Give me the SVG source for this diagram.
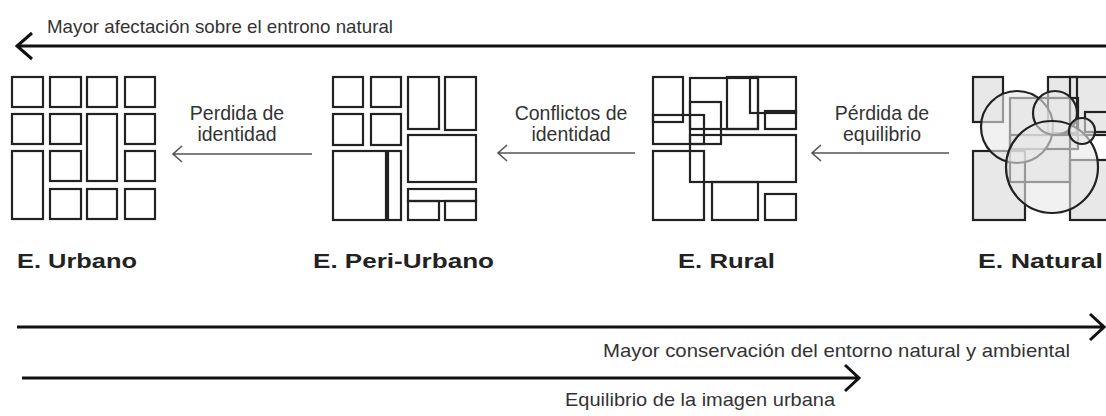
<svg xmlns="http://www.w3.org/2000/svg" width="1106" height="416" viewBox="0 0 1106 416">
<defs>
<style>
.b{fill:none;stroke:#222;stroke-width:2.2}
.nf{fill:#e8e8e8;stroke:none}
.nc{fill:#e8e8e8;fill-opacity:0.6;stroke:#222;stroke-width:2.2}
.t{font-family:"Liberation Sans",Arial,sans-serif;font-size:19px;fill:#333}
.s{font-size:19.5px}
.m{text-anchor:middle}
.lbl{font-family:"Liberation Sans",Arial,sans-serif;font-size:21px;font-weight:bold;fill:#222}
.big{stroke:#111;stroke-width:3;fill:none}
.sm{stroke:#555;stroke-width:1.6;fill:none}
</style>
</defs>
<rect width="1106" height="416" fill="#fff"/>

<g id="connectors">
  <path class="big" d="M17,46 H1106 M32,33 L17,46 L32,59"/>
  <path class="big" d="M17,327 H1103 M1090,314 L1104,327 L1090,340"/>
  <path class="big" d="M22,378 H857 M845,365 L859,378 L845,391"/>
  <path class="sm" d="M173,154 H312 M182,146 L173,154 L182,162"/>
  <path class="sm" d="M498,153 H635 M507,145 L498,153 L507,161"/>
  <path class="sm" d="M812,153 H949 M821,145 L812,153 L821,161"/>
</g>

<g id="labels">
  <text class="t" x="47" y="33" textLength="346" lengthAdjust="spacingAndGlyphs">Mayor afectación sobre el entrono natural</text>
  <text class="t s m" x="237" y="120">Perdida de</text>
  <text class="t s m" x="237" y="141">identidad</text>
  <text class="t s m" x="571" y="120">Conflictos de</text>
  <text class="t s m" x="571" y="141">identidad</text>
  <text class="t s m" x="882" y="120">Pérdida de</text>
  <text class="t s m" x="882" y="141">equilibrio</text>
  <text class="t" x="603" y="357" textLength="467" lengthAdjust="spacingAndGlyphs">Mayor conservación del entorno natural y ambiental</text>
  <text class="t" x="565" y="406" textLength="270" lengthAdjust="spacingAndGlyphs">Equilibrio de la imagen urbana</text>
</g>

<g id="urbano">
  <rect class="b" x="12" y="77" width="31" height="30"/>
  <rect class="b" x="50" y="77" width="31" height="30"/>
  <rect class="b" x="87" y="77" width="30" height="30"/>
  <rect class="b" x="125" y="77" width="30" height="30"/>
  <rect class="b" x="12" y="114" width="31" height="30"/>
  <rect class="b" x="50" y="114" width="31" height="30"/>
  <rect class="b" x="87" y="114" width="30" height="67"/>
  <rect class="b" x="125" y="114" width="30" height="30"/>
  <rect class="b" x="12" y="151" width="31" height="68"/>
  <rect class="b" x="50" y="151" width="31" height="30"/>
  <rect class="b" x="125" y="151" width="30" height="30"/>
  <rect class="b" x="50" y="189" width="31" height="30"/>
  <rect class="b" x="87" y="189" width="30" height="30"/>
  <rect class="b" x="125" y="189" width="30" height="30"/>
  <text class="lbl" x="17" y="268" textLength="120" lengthAdjust="spacingAndGlyphs">E. Urbano</text>
</g>

<g id="periurbano">
  <rect class="b" x="333" y="77" width="30" height="30"/>
  <rect class="b" x="371" y="77" width="30" height="30"/>
  <rect class="b" x="408" y="77" width="31" height="52"/>
  <rect class="b" x="445" y="77" width="31" height="53"/>
  <rect class="b" x="333" y="114" width="30" height="31"/>
  <rect class="b" x="371" y="114" width="30" height="31"/>
  <rect class="b" x="408" y="135" width="68" height="47"/>
  <rect class="b" x="333" y="151" width="53" height="69"/>
  <rect class="b" x="388" y="151" width="13" height="69"/>
  <rect class="b" x="408" y="189" width="68" height="12"/>
  <rect class="b" x="408" y="201" width="31" height="19"/>
  <rect class="b" x="445" y="201" width="31" height="19"/>
  <text class="lbl" x="313" y="268" textLength="181" lengthAdjust="spacingAndGlyphs">E. Peri-Urbano</text>
</g>

<g id="rural">
  <rect class="b" x="653" y="77" width="30" height="45"/>
  <rect class="b" x="653" y="115" width="51" height="29"/>
  <rect class="b" x="690" y="78" width="68" height="51"/>
  <rect class="b" x="690" y="102" width="31" height="42"/>
  <rect class="b" x="727" y="77" width="31" height="52"/>
  <rect class="b" x="750" y="77" width="46" height="36"/>
  <rect class="b" x="765" y="111" width="31" height="18"/>
  <rect class="b" x="690" y="135" width="106" height="47"/>
  <rect class="b" x="653" y="151" width="51" height="69"/>
  <rect class="b" x="712" y="182" width="46" height="38"/>
  <rect class="b" x="765" y="194" width="31" height="26"/>
  <text class="lbl" x="678" y="268" textLength="97" lengthAdjust="spacingAndGlyphs">E. Rural</text>
</g>

<g id="natural">
  <rect class="nf" x="973" y="77" width="30" height="45"/>
  <rect class="nf" x="973" y="151" width="52" height="69"/>
  <rect class="nf" x="1010" y="98" width="68" height="51"/>
  <rect class="nf" x="1010" y="135" width="60" height="47"/>
  <rect class="nf" x="1048" y="77" width="29" height="56"/>
  <rect class="nf" x="1070" y="77" width="40" height="58"/>
  <rect class="nf" x="1070" y="160" width="40" height="60"/>
  <rect class="b" x="973" y="77" width="30" height="45"/>
  <rect class="b" x="973" y="151" width="52" height="69"/>
  <rect class="b" x="1010" y="98" width="68" height="51"/>
  <rect class="b" x="1010" y="135" width="60" height="47"/>
  <rect class="b" x="1048" y="77" width="29" height="56"/>
  <rect class="b" x="1070" y="77" width="40" height="58"/>
  <rect class="b" x="1085" y="112" width="30" height="20"/>
  <rect class="b" x="1070" y="160" width="40" height="60"/>
  <circle class="nc" cx="1017" cy="127" r="36"/>
  <circle class="nc" cx="1055" cy="113" r="22"/>
  <circle class="nc" cx="1052" cy="167" r="46"/>
  <circle class="nc" cx="1082" cy="131" r="13"/>
  <text class="lbl" x="978" y="268" textLength="125" lengthAdjust="spacingAndGlyphs">E. Natural</text>
</g>
</svg>
